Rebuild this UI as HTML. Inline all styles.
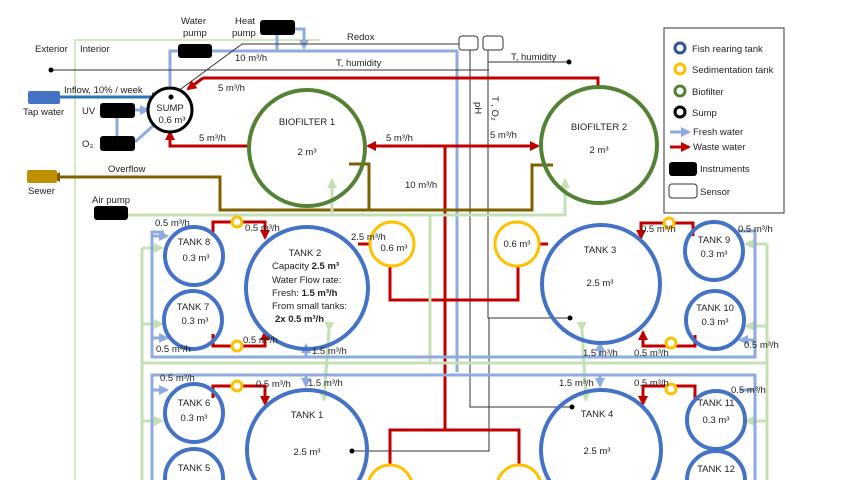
<!DOCTYPE html>
<html><head><meta charset="utf-8"><style>
html,body{margin:0;padding:0;background:#fff;width:853px;height:480px;overflow:hidden;}
svg{display:block;font-family:"Liberation Sans",sans-serif;}
text{font-size:9.5px;fill:#222;}
</style></head><body>
<svg width="853" height="480" viewBox="0 0 853 480" xmlns="http://www.w3.org/2000/svg">
<defs>
<marker id="ar" markerWidth="10" markerHeight="10" refX="8" refY="5" orient="auto" markerUnits="userSpaceOnUse"><path d="M0,0 L10,5 L0,10 z" fill="#c00000"/></marker>
<marker id="ag" markerWidth="10" markerHeight="10" refX="8" refY="5" orient="auto" markerUnits="userSpaceOnUse"><path d="M0,0 L10,5 L0,10 z" fill="#c5e0b4"/></marker>
<marker id="abl" markerWidth="10" markerHeight="10" refX="8" refY="5" orient="auto" markerUnits="userSpaceOnUse"><path d="M0,0 L10,5 L0,10 z" fill="#8faadc"/></marker>
<marker id="atap" markerWidth="10" markerHeight="10" refX="8" refY="5" orient="auto" markerUnits="userSpaceOnUse"><path d="M0,0 L10,5 L0,10 z" fill="#2e75b6"/></marker>
<marker id="abr" markerWidth="10" markerHeight="10" refX="8" refY="5" orient="auto" markerUnits="userSpaceOnUse"><path d="M0,0 L10,5 L0,10 z" fill="#7f6000"/></marker>
</defs>

<polyline points="320,40 75,40 75,480" fill="none" stroke="#c5e0b4" stroke-width="1.5"/>
<text x="35" y="52">Exterior</text><text x="80" y="52">Interior</text>

<polyline points="178,51 170,51 170,86" fill="none" stroke="#8faadc" stroke-width="3"/>
<polyline points="212,51 457,51 457,372" fill="none" stroke="#8faadc" stroke-width="3"/>
<line x1="277" y1="35" x2="277" y2="51" stroke="#8faadc" stroke-width="3"/>
<polyline points="295,29 304,29 304,48" fill="none" stroke="#8faadc" stroke-width="3" marker-end="url(#abl)"/>

<polyline points="170,97 242,44 459,44" fill="none" stroke="#333" stroke-width="1"/>
<line x1="51" y1="70" x2="489" y2="70" stroke="#333" stroke-width="1"/>
<circle cx="51" cy="70" r="2.5" fill="#000"/>
<line x1="488" y1="62" x2="569" y2="62" stroke="#333" stroke-width="1"/>
<circle cx="569" cy="62" r="2.5" fill="#000"/>
<polyline points="470,50 470,407 572,407" fill="none" stroke="#333" stroke-width="1"/>
<polyline points="488,50 488,318 570,318" fill="none" stroke="#333" stroke-width="1"/>
<polyline points="489,318 489,451 352,451" fill="none" stroke="#333" stroke-width="1"/>
<circle cx="570" cy="318" r="2.5" fill="#000"/>
<circle cx="572" cy="407" r="2.5" fill="#000"/>
<circle cx="352" cy="451" r="2.5" fill="#000"/>
<rect x="459" y="36" width="19" height="14" rx="3" fill="#fff" stroke="#333"/>
<rect x="483" y="36" width="20" height="14" rx="3" fill="#fff" stroke="#333"/>
<text x="347" y="40">Redox</text>
<text x="336" y="66">T, humidity</text>
<text x="511" y="60">T, humidity</text>
<text x="235" y="61">10 m³/h</text>
<text transform="translate(475,102) rotate(90)">pH</text>
<text transform="translate(492,96) rotate(90)">T , O₂</text>

<polyline points="203,78 598,78 598,88" fill="none" stroke="#c00000" stroke-width="3"/>
<line x1="203" y1="78" x2="188" y2="89" stroke="#c00000" stroke-width="3" marker-end="url(#ar)"/>
<text x="218" y="91">5 m³/h</text>
<polyline points="249,146 170,146 170,132" fill="none" stroke="#c00000" stroke-width="3" marker-end="url(#ar)"/>
<text x="199" y="141">5 m³/h</text>
<line x1="445" y1="146" x2="368" y2="146" stroke="#c00000" stroke-width="3" marker-end="url(#ar)"/>
<line x1="445" y1="146" x2="538" y2="146" stroke="#c00000" stroke-width="3" marker-end="url(#ar)"/>
<text x="386" y="141">5 m³/h</text>
<text x="490" y="138">5 m³/h</text>
<line x1="445" y1="146" x2="445" y2="430" stroke="#c00000" stroke-width="3"/>
<text x="405" y="188">10 m³/h</text>
<polyline points="390,467 390,430 519,430 519,467" fill="none" stroke="#c00000" stroke-width="3"/>
<polyline points="390,266 390,300 518,300 518,266" fill="none" stroke="#c00000" stroke-width="3"/>

<rect x="28" y="91" width="32" height="13" rx="2" fill="#4472c4"/>
<text x="23" y="115">Tap water</text>
<line x1="60" y1="97" x2="160" y2="97" stroke="#2e75b6" stroke-width="3" marker-end="url(#atap)"/>
<text x="64" y="93">Inflow, 10% / week</text>
<line x1="117" y1="118" x2="117" y2="137" stroke="#8faadc" stroke-width="3"/>
<line x1="135" y1="110" x2="148" y2="110" stroke="#8faadc" stroke-width="3" marker-end="url(#abl)"/>
<line x1="135" y1="142" x2="155" y2="124" stroke="#8faadc" stroke-width="3"/>
<rect x="100" y="103" width="35" height="15" rx="3" fill="#000"/>
<rect x="100" y="136" width="35" height="15" rx="3" fill="#000"/>
<text x="82" y="114">UV</text><text x="82" y="147">O₃</text>
<circle cx="170" cy="110" r="22" fill="#fff" stroke="#000" stroke-width="3"/>
<circle cx="171" cy="97" r="2.5" fill="#000"/>
<text x="170" y="111" text-anchor="middle">SUMP</text>
<text x="172" y="123" text-anchor="middle">0.6 m³</text>
<rect x="178" y="44" width="34" height="14" rx="3" fill="#000"/>
<rect x="260" y="20" width="35" height="15" rx="3" fill="#000"/>
<text x="181" y="24">Water</text><text x="183" y="36">pump</text>
<text x="235" y="24">Heat</text><text x="232" y="36">pump</text>

<polyline points="553,165 532,165 532,210 220,210 220,177 52,177" fill="none" stroke="#7f6000" stroke-width="3" marker-end="url(#abr)"/>
<polyline points="349,164 369,164 369,210" fill="none" stroke="#7f6000" stroke-width="3"/>
<rect x="27" y="170" width="30" height="13" rx="2" fill="#bf9000"/>
<text x="28" y="194">Sewer</text>
<text x="108" y="172">Overflow</text>

<rect x="94" y="206" width="34" height="14" rx="3" fill="#000"/>
<text x="92" y="203">Air pump</text>
<polyline points="128,215 565,215 565,180" fill="none" stroke="#c5e0b4" stroke-width="3" marker-end="url(#ag)"/>
<line x1="332" y1="215" x2="332" y2="180" stroke="#c5e0b4" stroke-width="3" marker-end="url(#ag)"/>
<line x1="430" y1="215" x2="430" y2="363" stroke="#c5e0b4" stroke-width="3"/>
<line x1="142" y1="363" x2="767" y2="363" stroke="#c5e0b4" stroke-width="3"/>
<line x1="142" y1="248" x2="142" y2="480" stroke="#c5e0b4" stroke-width="3"/>
<line x1="767" y1="244" x2="767" y2="480" stroke="#c5e0b4" stroke-width="3"/>
<line x1="142" y1="248" x2="162" y2="248" stroke="#c5e0b4" stroke-width="3" marker-end="url(#ag)"/>
<line x1="142" y1="324" x2="162" y2="324" stroke="#c5e0b4" stroke-width="3" marker-end="url(#ag)"/>
<line x1="142" y1="421" x2="162" y2="421" stroke="#c5e0b4" stroke-width="3" marker-end="url(#ag)"/>
<line x1="767" y1="244" x2="746" y2="244" stroke="#c5e0b4" stroke-width="3" marker-end="url(#ag)"/>
<line x1="767" y1="326" x2="746" y2="326" stroke="#c5e0b4" stroke-width="3" marker-end="url(#ag)"/>
<line x1="767" y1="421" x2="746" y2="421" stroke="#c5e0b4" stroke-width="3" marker-end="url(#ag)"/>
<line x1="329" y1="330" x2="324" y2="400" stroke="#c5e0b4" stroke-width="3" marker-end="url(#ag)" marker-start="url(#ag)"/>
<line x1="582" y1="330" x2="586" y2="400" stroke="#c5e0b4" stroke-width="3" marker-end="url(#ag)" marker-start="url(#ag)"/>

<polyline points="164,232 152,232 152,357 755,357 755,231 738,231" fill="none" stroke="#8faadc" stroke-width="3"/>
<polyline points="152,480 152,375 755,375 755,480" fill="none" stroke="#8faadc" stroke-width="3"/>
<line x1="152" y1="236" x2="167" y2="236" stroke="#8faadc" stroke-width="3" marker-end="url(#abl)"/>
<line x1="152" y1="338" x2="167" y2="338" stroke="#8faadc" stroke-width="3" marker-end="url(#abl)"/>
<line x1="152" y1="390" x2="167" y2="390" stroke="#8faadc" stroke-width="3" marker-end="url(#abl)"/>
<line x1="755" y1="340" x2="740" y2="340" stroke="#8faadc" stroke-width="3" marker-end="url(#abl)"/>
<line x1="755" y1="390" x2="740" y2="390" stroke="#8faadc" stroke-width="3"/>
<line x1="306" y1="357" x2="306" y2="345" stroke="#8faadc" stroke-width="3" marker-end="url(#abl)"/>
<line x1="306" y1="375" x2="306" y2="386" stroke="#8faadc" stroke-width="3" marker-end="url(#abl)"/>
<line x1="600" y1="357" x2="600" y2="343" stroke="#8faadc" stroke-width="3" marker-end="url(#abl)"/>
<line x1="600" y1="375" x2="600" y2="386" stroke="#8faadc" stroke-width="3" marker-end="url(#abl)"/>

<polyline points="213,236 213,222 265,222 265,238" fill="none" stroke="#c00000" stroke-width="3" marker-end="url(#ar)"/>
<polyline points="213,334 213,346 265,346 265,332" fill="none" stroke="#c00000" stroke-width="3" marker-end="url(#ar)"/>
<polyline points="213,398 213,386 265,386 265,404" fill="none" stroke="#c00000" stroke-width="3" marker-end="url(#ar)"/>
<polyline points="693,236 693,223 641,223 641,238" fill="none" stroke="#c00000" stroke-width="3" marker-end="url(#ar)"/>
<polyline points="695,335 695,346 643,346 643,332" fill="none" stroke="#c00000" stroke-width="3" marker-end="url(#ar)"/>
<polyline points="695,400 695,386 643,386 643,404" fill="none" stroke="#c00000" stroke-width="3" marker-end="url(#ar)"/>
<line x1="358" y1="244" x2="370" y2="244" stroke="#c00000" stroke-width="3"/>
<line x1="540" y1="244" x2="548" y2="244" stroke="#c00000" stroke-width="3"/>

<circle cx="307" cy="148" r="58" fill="none" stroke="#548235" stroke-width="4"/>
<text x="307" y="125" text-anchor="middle">BIOFILTER 1</text><text x="307" y="155" text-anchor="middle">2 m³</text>
<circle cx="599" cy="145" r="58" fill="none" stroke="#548235" stroke-width="4"/>
<text x="599" y="130" text-anchor="middle">BIOFILTER 2</text><text x="599" y="153" text-anchor="middle">2 m³</text>

<g fill="none" stroke="#4472c4" stroke-width="4">
<circle cx="194" cy="256" r="29"/><circle cx="193" cy="320" r="29"/>
<circle cx="307" cy="288" r="61"/>
<circle cx="601" cy="284" r="59"/>
<circle cx="714" cy="251" r="29"/><circle cx="715" cy="320" r="29"/>
<circle cx="194" cy="413" r="29"/><circle cx="194" cy="478" r="29"/>
<circle cx="307" cy="450" r="60"/>
<circle cx="601" cy="450" r="60"/>
<circle cx="716" cy="420" r="29"/><circle cx="716" cy="480" r="29"/>
</g>
<g fill="#fff" stroke="#ffc000" stroke-width="3">
<circle cx="392" cy="244" r="22"/><circle cx="517" cy="244" r="22"/>
<circle cx="390" cy="487" r="22"/><circle cx="519" cy="487" r="22"/>
<circle cx="237" cy="222" r="5"/><circle cx="237" cy="346" r="5"/><circle cx="237" cy="386" r="5"/>
<circle cx="669" cy="223" r="5"/><circle cx="671" cy="343" r="5"/><circle cx="671" cy="389" r="5"/>
</g>

<text x="194" y="245" text-anchor="middle">TANK 8</text><text x="196" y="261" text-anchor="middle">0.3 m³</text>
<text x="193" y="310" text-anchor="middle">TANK 7</text><text x="195" y="324" text-anchor="middle">0.3 m³</text>
<text x="305" y="256" text-anchor="middle">TANK 2</text>
<text x="272" y="269">Capacity <tspan font-weight="bold">2.5 m³</tspan></text>
<text x="272" y="283">Water Flow rate:</text>
<text x="272" y="296">Fresh: <tspan font-weight="bold">1.5 m³/h</tspan></text>
<text x="272" y="309">From small tanks:</text>
<text x="275" y="322" font-weight="bold">2x 0.5 m³/h</text>
<text x="394" y="251" text-anchor="middle">0.6 m³</text>
<text x="517" y="247" text-anchor="middle">0.6 m³</text>
<text x="600" y="253" text-anchor="middle">TANK 3</text><text x="600" y="286" text-anchor="middle">2.5 m³</text>
<text x="714" y="243" text-anchor="middle">TANK 9</text><text x="714" y="257" text-anchor="middle">0.3 m³</text>
<text x="715" y="311" text-anchor="middle">TANK 10</text><text x="715" y="325" text-anchor="middle">0.3 m³</text>
<text x="194" y="406" text-anchor="middle">TANK 6</text><text x="194" y="421" text-anchor="middle">0.3 m³</text>
<text x="194" y="471" text-anchor="middle">TANK 5</text>
<text x="307" y="418" text-anchor="middle">TANK 1</text><text x="307" y="455" text-anchor="middle">2.5 m³</text>
<text x="597" y="417" text-anchor="middle">TANK 4</text><text x="597" y="454" text-anchor="middle">2.5 m³</text>
<text x="716" y="406" text-anchor="middle">TANK 11</text><text x="716" y="423" text-anchor="middle">0.3 m³</text>
<text x="716" y="472" text-anchor="middle">TANK 12</text>

<text x="155" y="226">0.5 m³/h</text><text x="245" y="231">0.5 m³/h</text>
<text x="351" y="240">2.5 m³/h</text>
<text x="156" y="352">0.5 m³/h</text><text x="243" y="343">0.5 m³/h</text>
<text x="312" y="354">1.5 m³/h</text>
<text x="160" y="381">0.5 m³/h</text><text x="256" y="387">0.5 m³/h</text><text x="308" y="386">1.5 m³/h</text>
<text x="583" y="356">1.5 m³/h</text><text x="634" y="356">0.5 m³/h</text>
<text x="641" y="232">0.5 m³/h</text><text x="738" y="232">0.5 m³/h</text>
<text x="744" y="348">0.5 m³/h</text>
<text x="559" y="386">1.5 m³/h</text><text x="634" y="386">0.5 m³/h</text><text x="731" y="393">0.5 m³/h</text>

<rect x="664" y="28" width="120" height="185" fill="#fff" stroke="#555" stroke-width="1.2"/>
<circle cx="680" cy="48" r="5" fill="none" stroke="#2f5597" stroke-width="3"/>
<text x="692" y="52">Fish rearing tank</text>
<circle cx="680" cy="69" r="5" fill="none" stroke="#ffc000" stroke-width="3"/>
<text x="692" y="73">Sedimentation tank</text>
<circle cx="680" cy="91" r="5" fill="none" stroke="#548235" stroke-width="3"/>
<text x="692" y="95">Biofilter</text>
<circle cx="680" cy="112" r="5" fill="none" stroke="#000" stroke-width="3"/>
<text x="692" y="116">Sump</text>
<line x1="670" y1="132" x2="689" y2="132" stroke="#8faadc" stroke-width="3" marker-end="url(#abl)"/>
<text x="693" y="135">Fresh water</text>
<line x1="670" y1="147" x2="689" y2="147" stroke="#c00000" stroke-width="3" marker-end="url(#ar)"/>
<text x="693" y="150">Waste water</text>
<rect x="669" y="162" width="28" height="14" rx="3" fill="#000"/>
<text x="700" y="172">Instruments</text>
<rect x="669" y="184" width="28" height="14" rx="3" fill="#fff" stroke="#333"/>
<text x="700" y="195">Sensor</text>
</svg>
</body></html>
